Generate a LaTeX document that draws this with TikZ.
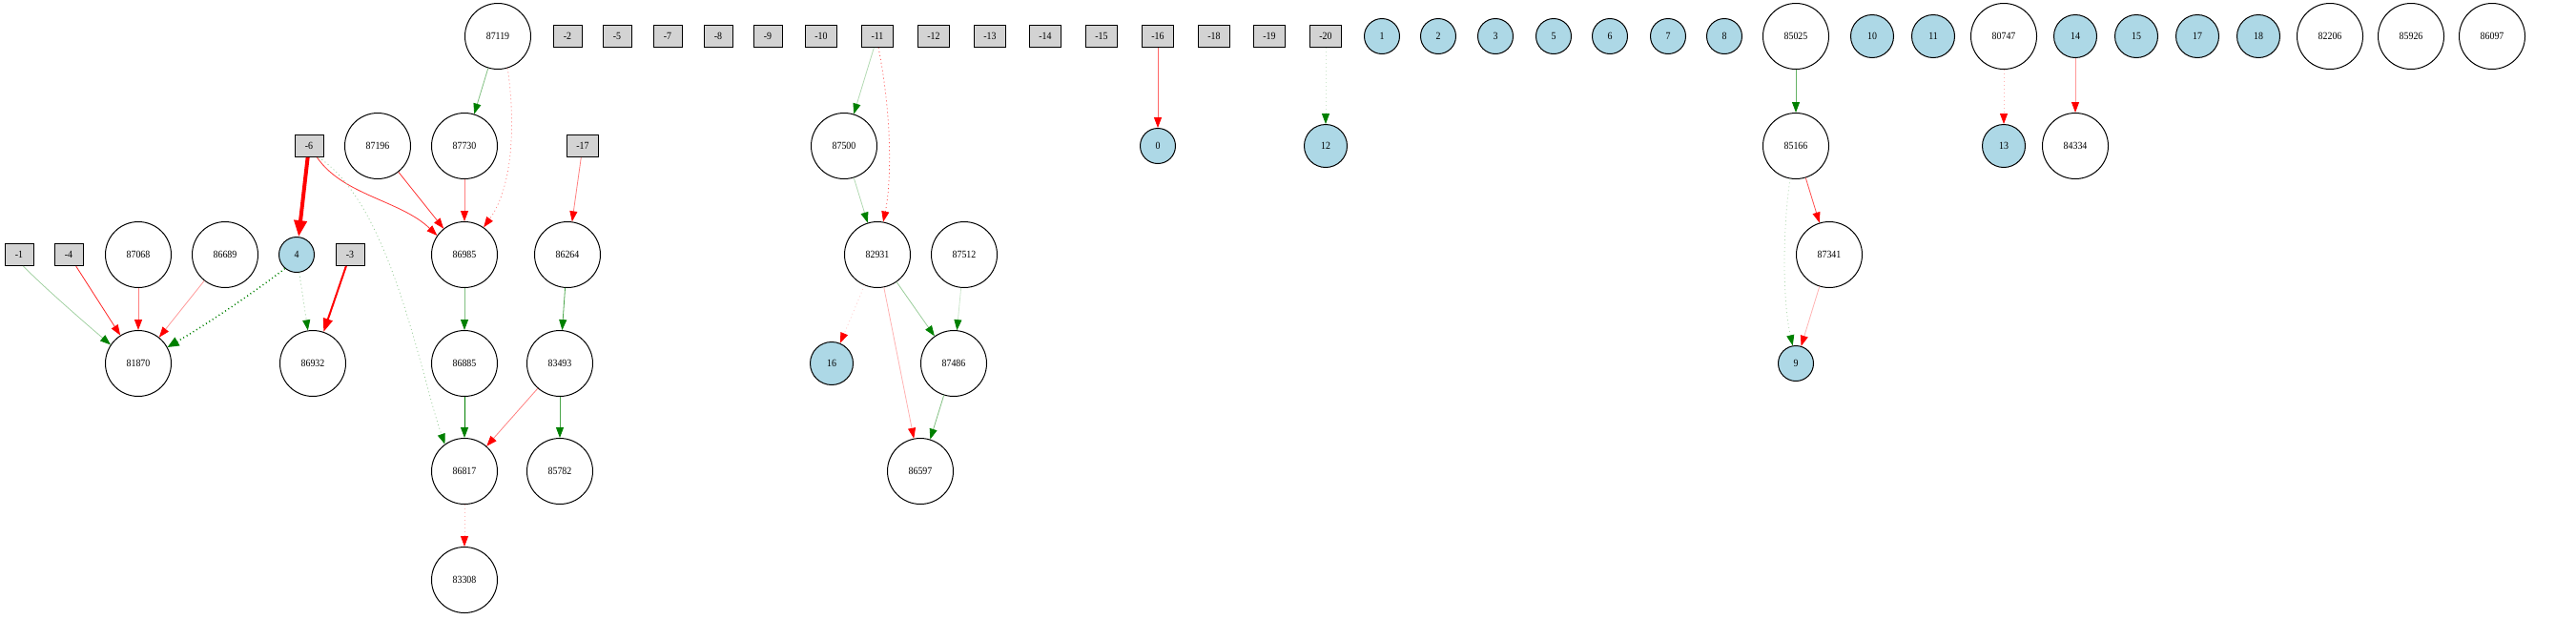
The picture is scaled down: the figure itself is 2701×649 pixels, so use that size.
\documentclass[tikz,border=0pt]{standalone}
\usepackage{fontspec}
\setmainfont{Liberation Serif}[FakeStretch=0.9]
\usetikzlibrary{arrows.meta}
\definecolor{lgray}{HTML}{D3D3D3}
\definecolor{lblue}{HTML}{ADD8E6}
\definecolor{gc}{HTML}{008000}
\definecolor{rc}{HTML}{FF0000}
\begin{document}
\begin{tikzpicture}[x=1pt,y=-1pt, font=\fontsize{11}{13}\selectfont,
 box/.style={draw,fill=lgray,line width=1pt,minimum width=30pt,minimum height=23pt,inner xsep=10pt,inner ysep=0pt},
 outs/.style={circle,draw,fill=lblue,line width=1pt,minimum size=37pt,inner sep=0pt},
 outb/.style={outs,minimum size=45pt},
 hid/.style={circle,draw,line width=1pt,minimum size=69pt,inner sep=0pt},
 ge/.style={draw=gc!#1,line width=0.8pt,-{Triangle[length=11pt,width=8pt,color=gc]}},
 re/.style={draw=rc!#1,line width=0.8pt,-{Triangle[length=11pt,width=8pt,color=rc]}},
 dots/.style={dash pattern=on 1pt off 3pt},
]
\useasboundingbox (0,0) rectangle (2701,649);
% row 0
\node[box] (m2) at (595,38) {-2};
\node[box] (m5) at (647,38) {-5};
\node[box] (m7) at (700,38) {-7};
\node[box] (m8) at (753,38) {-8};
\node[box] (m9) at (805,38) {-9};
\node[box] (m10) at (861,38) {-10};
\node[box] (m11) at (920,38) {-11};
\node[box] (m12) at (979,38) {-12};
\node[box] (m13) at (1038,38) {-13};
\node[box] (m14) at (1096,38) {-14};
\node[box] (m15) at (1155,38) {-15};
\node[box] (m16) at (1214,38) {-16};
\node[box] (m18) at (1273,38) {-18};
\node[box] (m19) at (1331,38) {-19};
\node[box] (m20) at (1390,38) {-20};
\node[outs] (o1) at (1449,38) {1};
\node[outs] (o2) at (1508,38) {2};
\node[outs] (o3) at (1568,38) {3};
\node[outs] (o5) at (1629,38) {5};
\node[outs] (o6) at (1688,38) {6};
\node[outs] (o7) at (1749,38) {7};
\node[outs] (o8) at (1808,38) {8};
\node[outb] (o10) at (1963,38) {10};
\node[outb] (o11) at (2027,38) {11};
\node[outb] (o14) at (2176,38) {14};
\node[outb] (o15) at (2240,38) {15};
\node[outb] (o17) at (2304,38) {17};
\node[outb] (o18) at (2368,38) {18};
\node[hid] (h87119) at (522,38) {87119};
\node[hid] (h85025) at (1883,38) {85025};
\node[hid] (h80747) at (2101,38) {80747};
\node[hid] (h82206) at (2443,38) {82206};
\node[hid] (h85926) at (2528,38) {85926};
\node[hid] (h86097) at (2613,38) {86097};
% row 1
\node[box] (m6) at (324,153) {-6};
\node[hid] (h87196) at (396,153) {87196};
\node[hid] (h87730) at (487,153) {87730};
\node[box] (m17) at (611,153) {-17};
\node[hid] (h87500) at (885,153) {87500};
\node[outs] (o0) at (1214,153) {0};
\node[outb] (o12) at (1390,153) {12};
\node[hid] (h85166) at (1883,153) {85166};
\node[outb] (o13) at (2101,153) {13};
\node[hid] (h84334) at (2176,153) {84334};
% row 2
\node[box] (m1) at (20,267) {-1};
\node[box] (m4) at (72,267) {-4};
\node[hid] (h87068) at (145,267) {87068};
\node[hid] (h86689) at (236,267) {86689};
\node[outs] (o4) at (311,267) {4};
\node[box] (m3) at (367,267) {-3};
\node[hid] (h86985) at (487,267) {86985};
\node[hid] (h86264) at (595,267) {86264};
\node[hid] (h82931) at (920,267) {82931};
\node[hid] (h87512) at (1011,267) {87512};
\node[hid] (h87341) at (1918,267) {87341};
% row 3
\node[hid] (h81870) at (145,381) {81870};
\node[hid] (h86932) at (328,381) {86932};
\node[hid] (h86885) at (487,381) {86885};
\node[hid] (h83493) at (587,381) {83493};
\node[outb] (o16) at (872,381) {16};
\node[hid] (h87486) at (1000,381) {87486};
\node[outs] (o9) at (1883,381) {9};
% row 4
\node[hid] (h86817) at (487,494) {86817};
\node[hid] (h85782) at (587,494) {85782};
\node[hid] (h86597) at (965,494) {86597};
% row 5
\node[hid] (h83308) at (487,608) {83308};
% edges
\draw[ge=40,line width=0.7pt] (m1.-70) .. controls (45,300) and (85,335) .. (h81870.146);
\draw[re=85] (m4) -- (h81870);
\draw[re=50,line width=1pt] (h87068) -- (h81870);
\draw[re=40] (h86689) -- (h81870);
\draw[ge=100,line width=1.5pt,dots,-{Triangle[length=12pt,width=10pt,color=gc]}] (o4.230) .. controls (275,300) and (225,335) .. (h81870.29);
\draw[ge=40,dots] (o4) -- (h86932);
\draw[re=100,line width=2pt,-{Triangle[length=14pt,width=10pt,color=rc]}] (m3) -- (h86932);
\draw[re=100,line width=4pt,-{Triangle[length=17pt,width=13pt,color=rc]}] (m6) -- (o4);
\draw[re=80] (m6.-55) .. controls (360,205) and (420,210) .. (h86985.145);
\draw[re=80] (h87196) -- (h86985);
\draw[re=50] (h87730) -- (h86985);
\draw[ge=50] (h87119) -- (h87730);
\draw[re=50,dots] (h87119.-73) .. controls (542,140) and (535,200) .. (h86985.55);
\draw[re=50] (m17) -- (h86264);
\draw[ge=70] (h86264) -- (h83493);
\draw[ge=50] (h86985) -- (h86885);
\draw[ge=100,line width=1pt] (h86885) -- (h86817);
\draw[re=50] (h83493) -- (h86817);
\draw[ge=70] (h83493) -- (h85782);
\draw[ge=40,dots] (m6.-50) .. controls (410,215) and (440,390) .. (h86817.126);
\draw[re=30,dots] (h86817) -- (h83308);
\draw[ge=30] (m11) -- (h87500);
\draw[re=70,dots] (m11.-85) .. controls (935,120) and (935,190) .. (h82931.80);
\draw[ge=30] (h87500) -- (h82931);
\draw[re=20,dots] (h82931) -- (o16);
\draw[ge=40] (h82931) -- (h87486);
\draw[ge=20] (h87512) -- (h87486);
\draw[re=30] (h82931) -- (h86597);
\draw[ge=50] (h87486) -- (h86597);
\draw[re=60] (m16) -- (o0);
\draw[ge=20,dots] (m20) -- (o12);
\draw[ge=60] (h85025) -- (h85166);
\draw[re=70] (h85166) -- (h87341);
\draw[ge=30,dots] (h85166.-100) .. controls (1868,250) and (1870,320) .. (o9.100);
\draw[re=30] (h87341) -- (o9);
\draw[re=30,dots] (h80747) -- (o13);
\draw[re=40] (o14) -- (h84334);
\end{tikzpicture}
\end{document}
